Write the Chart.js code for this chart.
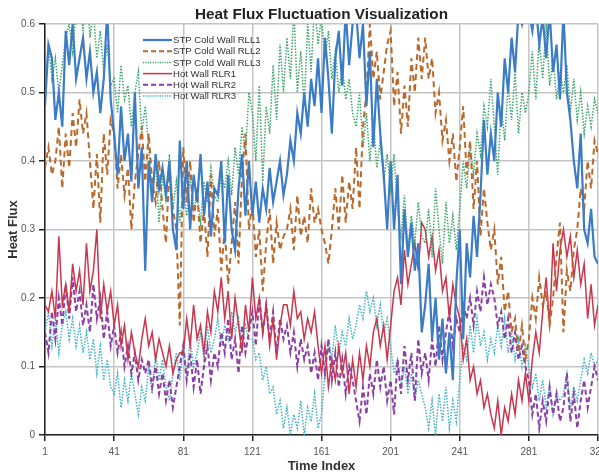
<!DOCTYPE html>
<html>
<head>
<meta charset="utf-8">
<script src="https://cdn.jsdelivr.net/npm/chart.js@4.4.1/dist/chart.umd.min.js"></script>
<style>
    body { margin: 0; background: #fff; }
    #wrap { width: 599px; height: 474px; }
</style>
</head>
<body>
<div id="wrap"><canvas id="heatflux" width="599" height="474"></canvas></div>
<script>
// time index, sampled every 2 steps (1, 3, ... 321)
var timeIndex = [];
for (var t = 1; t <= 321; t += 2) timeIndex.push(t);

var xTicks = [1, 41, 81, 121, 161, 201, 241, 281, 321];

var seriesNames = ['STP Cold Wall RLL1', 'STP Cold Wall RLL2', 'STP Cold Wall RLL3',
    'Hot Wall RLR1', 'Hot Wall RLR2', 'Hot Wall RLR3'];

var rll1 = [
    0.48, 0.57, 0.55, 0.46, 0.50, 0.45, 0.59, 0.54, 0.60, 0.52,
    0.55, 0.58, 0.52, 0.56, 0.50, 0.53, 0.47, 0.52, 0.62, 0.49,
    0.44, 0.38, 0.48, 0.40, 0.44, 0.37, 0.50, 0.36, 0.42, 0.24,
    0.40, 0.34, 0.41, 0.36, 0.39, 0.35, 0.40, 0.30, 0.27, 0.43,
    0.33, 0.40, 0.30, 0.38, 0.34, 0.41, 0.32, 0.37, 0.29, 0.36,
    0.35, 0.40, 0.28, 0.38, 0.30, 0.27, 0.36, 0.41, 0.32, 0.40,
    0.32, 0.37, 0.31, 0.36, 0.33, 0.39, 0.34, 0.37, 0.40, 0.35,
    0.38, 0.43, 0.40, 0.47, 0.44, 0.50, 0.45, 0.52, 0.48, 0.55,
    0.47, 0.58, 0.52, 0.44, 0.55, 0.59, 0.51, 0.62, 0.54, 0.60,
    0.62, 0.55, 0.60, 0.48, 0.56, 0.42, 0.52, 0.44, 0.38, 0.30,
    0.40, 0.30, 0.38, 0.22, 0.33, 0.26, 0.31, 0.24, 0.28, 0.15,
    0.19, 0.25, 0.14, 0.20, 0.11, 0.17, 0.09, 0.15, 0.08, 0.22,
    0.30, 0.14, 0.28, 0.23, 0.32, 0.26, 0.35, 0.46, 0.38, 0.44,
    0.40, 0.50, 0.45, 0.55, 0.50, 0.58, 0.53, 0.62, 0.60, 0.63,
    0.62, 0.59, 0.63, 0.57, 0.61, 0.55, 0.62, 0.53, 0.57, 0.49,
    0.62, 0.50, 0.46, 0.40, 0.36, 0.44, 0.30, 0.28, 0.33, 0.26,
    0.25
];

var rll2 = [
    0.39, 0.42, 0.38, 0.40, 0.45, 0.36, 0.44, 0.39, 0.47, 0.42,
    0.49, 0.44, 0.47, 0.40, 0.33, 0.41, 0.31, 0.44, 0.38, 0.46,
    0.44, 0.36, 0.41, 0.35, 0.39, 0.30, 0.37, 0.41, 0.45, 0.37,
    0.44, 0.37, 0.34, 0.40, 0.33, 0.28, 0.39, 0.33, 0.30, 0.16,
    0.42, 0.34, 0.40, 0.31, 0.36, 0.28, 0.33, 0.26, 0.38, 0.29,
    0.33, 0.24, 0.30, 0.22, 0.28, 0.34, 0.25, 0.38, 0.44, 0.30,
    0.34, 0.26, 0.30, 0.21, 0.28, 0.33, 0.25, 0.31, 0.27, 0.29,
    0.30, 0.33, 0.27, 0.35, 0.29, 0.32, 0.28, 0.36, 0.31, 0.33,
    0.30, 0.28, 0.25, 0.30, 0.36, 0.30, 0.38, 0.31, 0.37, 0.33,
    0.42, 0.33, 0.45, 0.50, 0.60, 0.52, 0.56, 0.49, 0.53, 0.57,
    0.59, 0.48, 0.53, 0.44, 0.51, 0.45, 0.55, 0.50, 0.58, 0.52,
    0.58, 0.52, 0.55, 0.47, 0.50, 0.43, 0.46, 0.40, 0.44, 0.37,
    0.42, 0.48, 0.38, 0.43, 0.33, 0.40, 0.29, 0.36, 0.31, 0.27,
    0.30, 0.22, 0.26, 0.18, 0.21, 0.15, 0.17, 0.12, 0.16, 0.11,
    0.14, 0.20, 0.17, 0.23, 0.19, 0.21, 0.16, 0.20, 0.26, 0.31,
    0.15, 0.24, 0.21, 0.27, 0.30, 0.36, 0.33, 0.40, 0.36, 0.43,
    0.41
];

var rll3 = [
    0.50, 0.57, 0.52, 0.55, 0.50, 0.54, 0.58, 0.60, 0.56, 0.62,
    0.64, 0.59, 0.66, 0.58, 0.62, 0.55, 0.59, 0.53, 0.57, 0.51,
    0.52, 0.47, 0.54, 0.49, 0.51, 0.45, 0.50, 0.53, 0.44, 0.48,
    0.42, 0.35, 0.40, 0.31, 0.38, 0.34, 0.41, 0.33, 0.37, 0.31,
    0.36, 0.32, 0.38, 0.33, 0.35, 0.31, 0.37, 0.34, 0.39, 0.35,
    0.34, 0.38, 0.36, 0.40, 0.35, 0.42, 0.38, 0.45, 0.41, 0.50,
    0.47, 0.40, 0.51, 0.37, 0.48, 0.44, 0.54, 0.46, 0.57, 0.50,
    0.58, 0.52, 0.62, 0.50, 0.56, 0.48, 0.60, 0.53, 0.63, 0.57,
    0.61, 0.55, 0.59, 0.52, 0.56, 0.50, 0.54, 0.49, 0.52, 0.47,
    0.45, 0.50, 0.42, 0.47, 0.40, 0.46, 0.39, 0.43, 0.37, 0.41,
    0.36, 0.41, 0.33, 0.29, 0.35, 0.27, 0.32, 0.28, 0.34, 0.29,
    0.28, 0.33, 0.26, 0.36, 0.30, 0.25, 0.34, 0.28, 0.32, 0.27,
    0.33, 0.40, 0.36, 0.42, 0.38, 0.44, 0.41, 0.48, 0.45, 0.52,
    0.45, 0.38, 0.48, 0.43, 0.51, 0.46, 0.53, 0.44, 0.50, 0.47,
    0.50, 0.56, 0.49, 0.58, 0.52, 0.60, 0.51, 0.55, 0.49, 0.53,
    0.50, 0.54, 0.47, 0.52, 0.46, 0.50, 0.44, 0.48, 0.45, 0.49,
    0.47
];

var rlr1 = [
    0.19, 0.18, 0.21, 0.17, 0.29, 0.19, 0.22, 0.18, 0.25, 0.21,
    0.24, 0.19, 0.28, 0.21, 0.24, 0.30, 0.17, 0.22, 0.18, 0.21,
    0.16, 0.19, 0.13, 0.16, 0.11, 0.15, 0.12, 0.10, 0.14, 0.17,
    0.13, 0.15, 0.11, 0.14, 0.12, 0.10, 0.13, 0.09, 0.11, 0.12,
    0.12, 0.17, 0.13, 0.19, 0.14, 0.16, 0.12, 0.18, 0.15, 0.21,
    0.18, 0.23, 0.17, 0.21, 0.14, 0.20, 0.16, 0.12, 0.19, 0.15,
    0.23, 0.17, 0.20, 0.15, 0.19, 0.13, 0.17, 0.11, 0.16, 0.19,
    0.19, 0.16, 0.21, 0.17, 0.18, 0.14, 0.17, 0.15, 0.18, 0.13,
    0.09, 0.13, 0.07, 0.11, 0.08, 0.13, 0.09, 0.12, 0.06, 0.11,
    0.07, 0.12, 0.08, 0.13, 0.10, 0.15, 0.17, 0.13, 0.16, 0.11,
    0.16, 0.21, 0.23, 0.19, 0.27, 0.22, 0.25, 0.28, 0.24, 0.31,
    0.30, 0.26, 0.29, 0.24, 0.27, 0.21, 0.23, 0.17, 0.22, 0.19,
    0.17, 0.11, 0.14, 0.08, 0.10, 0.06, 0.08, 0.04, 0.06, 0.03,
    0.01, 0.05, 0.00, 0.04, 0.02, 0.06, 0.03, 0.08, 0.05, 0.09,
    0.05, 0.11, 0.15, 0.12, 0.18, 0.23, 0.16, 0.28, 0.21, 0.27,
    0.30, 0.26, 0.29, 0.23, 0.27, 0.22, 0.25, 0.17, 0.22, 0.16,
    0.19
];

var rlr2 = [
    0.15, 0.12, 0.18, 0.14, 0.20, 0.16, 0.22, 0.17, 0.23, 0.18,
    0.21, 0.16, 0.19, 0.15, 0.22, 0.17, 0.20, 0.14, 0.18, 0.13,
    0.16, 0.12, 0.15, 0.10, 0.13, 0.09, 0.12, 0.08, 0.11, 0.09,
    0.11, 0.07, 0.10, 0.06, 0.09, 0.05, 0.08, 0.04, 0.07, 0.10,
    0.13, 0.08, 0.12, 0.07, 0.11, 0.06, 0.10, 0.13, 0.08, 0.12,
    0.10, 0.15, 0.12, 0.17, 0.11, 0.14, 0.09, 0.16, 0.12, 0.15,
    0.18, 0.13, 0.20, 0.15, 0.19, 0.14, 0.18, 0.12, 0.17, 0.14,
    0.16, 0.12, 0.15, 0.10, 0.14, 0.11, 0.13, 0.09, 0.12, 0.08,
    0.13, 0.09, 0.14, 0.08, 0.12, 0.07, 0.11, 0.06, 0.10, 0.08,
    0.05, 0.02, 0.07, 0.03, 0.09, 0.06, 0.11, 0.07, 0.10, 0.05,
    0.08, 0.03, 0.11, 0.06, 0.13, 0.08, 0.12, 0.05, 0.14, 0.09,
    0.12, 0.08, 0.14, 0.10, 0.16, 0.11, 0.15, 0.18, 0.13, 0.17,
    0.15, 0.19, 0.17, 0.20, 0.16, 0.21, 0.18, 0.23, 0.19, 0.22,
    0.20, 0.16, 0.18, 0.14, 0.17, 0.12, 0.15, 0.11, 0.13, 0.10,
    0.08, 0.03, 0.06, 0.01, 0.05, 0.02, 0.07, 0.03, 0.06, 0.02,
    0.04, 0.09, 0.02, 0.06, 0.01, 0.05, 0.08, 0.04, 0.07, 0.10,
    0.08
];

var rlr3 = [
    0.15, 0.18, 0.13, 0.17, 0.12, 0.16, 0.18, 0.14, 0.17, 0.13,
    0.16, 0.12, 0.15, 0.11, 0.14, 0.09, 0.13, 0.08, 0.11, 0.07,
    0.06, 0.09, 0.04, 0.08, 0.05, 0.09, 0.06, 0.03, 0.07, 0.05,
    0.10, 0.06, 0.12, 0.08, 0.11, 0.07, 0.05, 0.09, 0.12, 0.08,
    0.13, 0.09, 0.14, 0.10, 0.12, 0.15, 0.11, 0.16, 0.12, 0.14,
    0.17, 0.13, 0.16, 0.14, 0.18, 0.15, 0.17, 0.13, 0.16, 0.14,
    0.14, 0.11, 0.12, 0.08, 0.10, 0.06, 0.07, 0.03, 0.05, 0.01,
    0.04, 0.00, 0.03, 0.01, 0.05, 0.00, 0.04, 0.02, 0.06, 0.01,
    0.03, 0.09, 0.14, 0.11, 0.16, 0.12, 0.15, 0.13, 0.17, 0.14,
    0.16, 0.19, 0.17, 0.21, 0.18, 0.20, 0.16, 0.19, 0.15, 0.17,
    0.13, 0.09, 0.11, 0.07, 0.10, 0.06, 0.09, 0.05, 0.08, 0.06,
    0.04, 0.01, 0.05, 0.00, 0.06, 0.02, 0.07, 0.01, 0.05, 0.02,
    0.08, 0.13, 0.11, 0.16, 0.12, 0.17, 0.13, 0.15, 0.11, 0.14,
    0.12, 0.16, 0.13, 0.17, 0.12, 0.15, 0.11, 0.14, 0.10, 0.13,
    0.10, 0.07, 0.09, 0.05, 0.08, 0.04, 0.07, 0.03, 0.06, 0.05,
    0.06, 0.09, 0.04, 0.07, 0.05, 0.08, 0.11, 0.09, 0.12, 0.10,
    0.11
];

var FONT = '"Liberation Sans", Arial, sans-serif';

// title centred over the plot area + legend inside the plot
var decorPlugin = {
    id: 'decor',
    afterDraw: function (chart) {
        var ctx = chart.ctx;
        var area = chart.chartArea;
        ctx.save();
        ctx.fillStyle = '#222';
        ctx.font = 'bold 15.3px ' + FONT;
        ctx.textAlign = 'center';
        ctx.textBaseline = 'middle';
        ctx.fillText('Heat Flux Fluctuation Visualization', (area.left + area.right) / 2, 15);

        ctx.font = '9.6px ' + FONT;
        ctx.textAlign = 'left';
        chart.data.datasets.forEach(function (ds, i) {
            var y = 40 + i * 11.2;
            ctx.beginPath();
            ctx.strokeStyle = ds.borderColor;
            ctx.lineWidth = ds.borderWidth;
            ctx.setLineDash(ds.legendDash || []);
            ctx.moveTo(143, y);
            ctx.lineTo(172, y);
            ctx.stroke();
            ctx.setLineDash([]);
            ctx.fillStyle = '#333';
            ctx.fillText(ds.label, 173, y + 0.5);
        });
        ctx.restore();
    }
};

function serie(label, values, color, width, dash, legendDash) {
    return {
        label: label,
        data: values,
        borderColor: color,
        backgroundColor: color,
        borderWidth: width,
        borderDash: dash,
        legendDash: legendDash,
        pointRadius: 0,
        tension: 0,
        fill: false
    };
}

var ctx = document.getElementById('heatflux');
var myChart = new Chart(ctx, {
    type: 'line',
    data: {
        labels: timeIndex,
        datasets: [
            serie(seriesNames[0], rll1, '#3b7cc4', 2.2, [], []),
            serie(seriesNames[1], rll2, '#b8692b', 2, [6, 4], [5, 3]),
            serie(seriesNames[2], rll3, '#3aa66a', 1.5, [1.5, 1.5], [1.2, 1.2]),
            serie(seriesNames[3], rlr1, '#c9374e', 1.5, [], []),
            serie(seriesNames[4], rlr2, '#8b3fa6', 2, [5, 3], [5, 3]),
            serie(seriesNames[5], rlr3, '#3bb4c6', 1.5, [1.5, 1.5], [1.2, 1.2])
        ]
    },
    options: {
        responsive: false,
        animation: false,
        layout: { padding: { top: 24, right: 1, left: 0, bottom: 0 } },
        scales: {
            x: {
                type: 'linear',
                min: 1,
                max: 321,
                afterBuildTicks: function (scale) {
                    scale.ticks = xTicks.map(function (v) { return { value: v }; });
                },
                afterFit: function (scale) {
                    scale.height = 39;
                    scale.paddingLeft = 0;
                    scale.paddingRight = 0;
                },
                grid: { color: '#c4c4c4', lineWidth: 1.5, tickLength: 6, tickColor: '#222', tickWidth: 1.5 },
                border: { color: '#222', width: 1.5 },
                ticks: {
                    color: '#555',
                    font: { family: FONT, size: 10 },
                    maxRotation: 0,
                    autoSkip: false,
                    padding: 5,
                    callback: function (v) { return String(v); }
                },
                title: {
                    display: true,
                    text: 'Time Index',
                    color: '#333',
                    font: { family: FONT, size: 13, weight: 'bold' },
                    padding: { top: 0, bottom: 0 }
                }
            },
            y: {
                min: 0,
                max: 0.6,
                afterFit: function (scale) {
                    scale.width = 45;
                    scale.paddingTop = 0;
                    scale.paddingBottom = 0;
                },
                grid: { color: '#c4c4c4', lineWidth: 1.5, tickLength: 6, tickColor: '#222', tickWidth: 1.5 },
                border: { color: '#222', width: 1.5 },
                ticks: {
                    stepSize: 0.1,
                    color: '#555',
                    font: { family: FONT, size: 10 },
                    padding: 4
                },
                title: {
                    display: true,
                    text: 'Heat Flux',
                    color: '#333',
                    font: { family: FONT, size: 13, weight: 'bold' },
                    padding: { top: 6, bottom: 0 }
                }
            }
        },
        plugins: {
            legend: { display: false },
            title: { display: false },
            tooltip: { enabled: false }
        }
    },
    plugins: [decorPlugin]
});
</script>
</body>
</html>
